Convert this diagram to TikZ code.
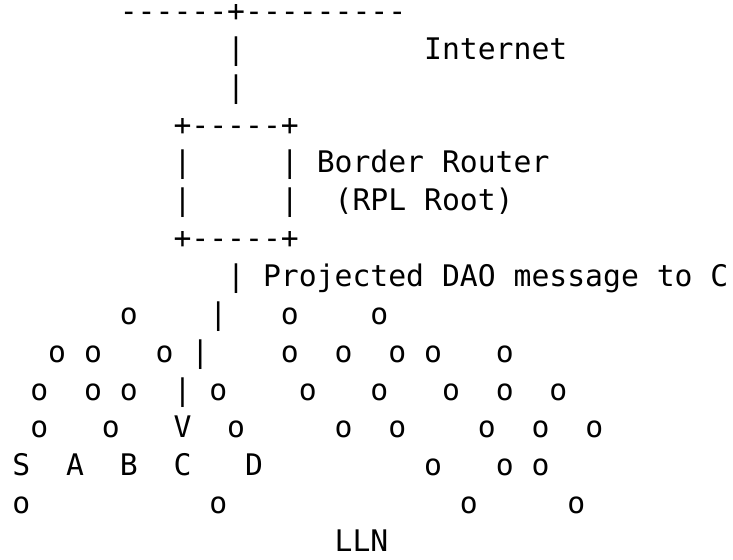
\documentclass[tikz,border=0pt]{standalone}
\usepackage{fontspec}
\setmonofont{DejaVu Sans Mono}
\usetikzlibrary{positioning}

\begin{document}
\begin{tikzpicture}[x=8.95pt, y=-18.925pt,
                    font=\ttfamily\fontsize{14.865pt}{18pt}\selectfont]
    \tikzstyle{ascii} = [inner sep=0pt, anchor=base west]

    \useasboundingbox (-0.673,0.43) rectangle (40.277,15.2);

    \node (inet)     [ascii] at (6,1)  {------+---------};
    \node (up1)      [ascii] at (12,2) {|};
    \node (internet) [ascii] at (23,2) {Internet};
    \node (up2)      [ascii] at (12,3) {|};
    \node (brtop)    [ascii] at (9,4)  {+-----+};
    \node (brleft1)  [ascii] at (9,5)  {|};
    \node (brright1) [ascii] at (15,5) {|};
    \node (brname)   [ascii] at (17,5) {Border Router};
    \node (brleft2)  [ascii] at (9,6)  {|};
    \node (brright2) [ascii] at (15,6) {|};
    \node (rplroot)  [ascii] at (18,6) {(RPL Root)};
    \node (brbot)    [ascii] at (9,7)  {+-----+};
    \node (pdao1)    [ascii] at (12,8) {|};
    \node (pdaotext) [ascii] at (14,8) {Projected DAO message to C};
    \node (pdao2)    [ascii] at (11,9) {|};
    \node (pdao3)    [ascii] at (10,10) {|};
    \node (pdao4)    [ascii] at (9,11) {|};
    \node (pdaotip)  [ascii] at (9,12) {V};

    \foreach \c in {6,15,20}
      \node (o9-\c) [ascii] at (\c,9) {o};
    \foreach \c in {2,4,8,15,18,21,23,27}
      \node (o10-\c) [ascii] at (\c,10) {o};
    \foreach \c in {1,4,6,11,16,20,24,27,30}
      \node (o11-\c) [ascii] at (\c,11) {o};
    \foreach \c in {1,5,12,18,21,26,29,32}
      \node (o12-\c) [ascii] at (\c,12) {o};
    \foreach \c in {23,27,29}
      \node (o13-\c) [ascii] at (\c,13) {o};
    \foreach \c in {0,11,25,31}
      \node (o14-\c) [ascii] at (\c,14) {o};

    \node (S) [ascii] at (0,13)  {S};
    \node (A) [ascii] at (3,13)  {A};
    \node (B) [ascii] at (6,13)  {B};
    \node (C) [ascii] at (9,13)  {C};
    \node (D) [ascii] at (13,13) {D};

    \node (lln) [ascii] at (18,15) {LLN};
\end{tikzpicture}
\end{document}
